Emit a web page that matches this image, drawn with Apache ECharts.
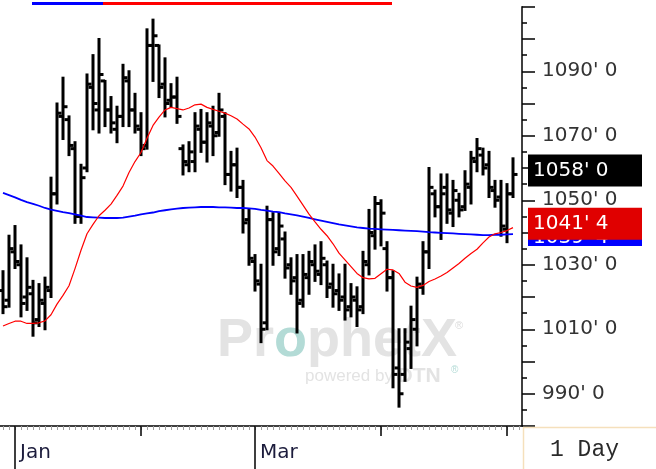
<!DOCTYPE html>
<html>
<head>
<meta charset="utf-8">
<script src="https://cdn.jsdelivr.net/npm/echarts@6/dist/echarts.min.js"></script>
<style>
html,body{margin:0;padding:0;background:#fff;}
#chart{width:656px;height:469px;}
</style>
</head>
<body>
<div id="chart"></div>
<script>
// daily bars, Dec 30 .. May 2
const dates = [
  '2024-12-30','2024-12-31',
  '2025-01-02','2025-01-03','2025-01-06','2025-01-07','2025-01-08','2025-01-09','2025-01-10','2025-01-13','2025-01-14','2025-01-15',
  '2025-01-16','2025-01-17','2025-01-21','2025-01-22','2025-01-23','2025-01-24','2025-01-27','2025-01-28','2025-01-29','2025-01-30','2025-01-31',
  '2025-02-03','2025-02-04','2025-02-05','2025-02-06','2025-02-07','2025-02-10','2025-02-11','2025-02-12','2025-02-13','2025-02-14',
  '2025-02-18','2025-02-19','2025-02-20','2025-02-21','2025-02-24','2025-02-25','2025-02-26','2025-02-27','2025-02-28',
  '2025-03-03','2025-03-04','2025-03-05','2025-03-06','2025-03-07','2025-03-10','2025-03-11','2025-03-12','2025-03-13','2025-03-14',
  '2025-03-17','2025-03-18','2025-03-19','2025-03-20','2025-03-21','2025-03-24','2025-03-25','2025-03-26','2025-03-27','2025-03-28','2025-03-31',
  '2025-04-01','2025-04-02','2025-04-03','2025-04-04','2025-04-07','2025-04-08','2025-04-09','2025-04-10','2025-04-11','2025-04-14',
  '2025-04-15','2025-04-16','2025-04-17','2025-04-21','2025-04-22','2025-04-23','2025-04-24','2025-04-25','2025-04-28','2025-04-29','2025-04-30',
  '2025-05-01','2025-05-02'
];
const opens = [
  1022,1019,1034,1030,1020,1021,1013,1018,1022,1052,
  1076,1075,1066,1045,1060,1085,1078,1087,1078,1072,
  1076,1087,1078,1072,1067,1098,1098,1086,1081,1082,
  1066,1061,1062,1072,1068,1073,1071,1076,1058,1061,
  1054,1044,1031,1024,1012,1044,1035,1038,1030,1026,
  1019,1026,1030,1027,1030,1024,1022,1020,1017,1019,
  1017,1030,1039,1049,1035,1026,998,996,1004,1010,
  1023,1034,1052,1048,1054,1046,1050,1048,1054,1062,
  1064,1061,1053,1051,1041,1052
];
const highs = [
  1028,1039,1042,1036,1032,1025,1024,1026,1057,1080,
  1088,1076,1068,1061,1089,1095,1100,1087,1082,1079,
  1092,1090,1083,1077,1103,1106,1098,1094,1086,1088,
  1067,1068,1077,1078,1077,1079,1083,1077,1065,1066,
  1056,1047,1033,1030,1048,1046,1046,1040,1032,1033,
  1033,1034,1036,1037,1031,1030,1027,1030,1024,1023,
  1034,1047,1051,1050,1037,1028,1010,1010,1017,1026,
  1037,1060,1053,1058,1058,1056,1052,1059,1065,1069,
  1066,1065,1056,1056,1055,1063
];
const lows = [
  1015,1017,1029,1014,1016,1008,1011,1010,1020,1049,
  1069,1064,1043,1043,1059,1072,1071,1073,1071,1068,
  1073,1073,1071,1064,1066,1087,1082,1076,1079,1074,
  1058,1059,1059,1065,1062,1064,1070,1055,1053,1051,
  1040,1030,1022,1006,1010,1030,1033,1026,1021,1009,
  1017,1021,1025,1024,1020,1017,1016,1013,1014,1011,
  1015,1027,1035,1036,1022,992,986,994,998,1005,
  1021,1029,1045,1038,1043,1042,1045,1047,1049,1059,
  1058,1051,1048,1039,1037,1051
];
const closes = [
  1017,1035,1031,1018,1023,1012,1019,1023,1052,1077,
  1079,1067,1045,1057,1086,1080,1089,1078,1074,1076,
  1088,1078,1073,1066,1098,1101,1085,1080,1082,1076,
  1062,1065,1073,1068,1074,1070,1078,1058,1061,1054,
  1043,1032,1025,1010,1044,1034,1042,1029,1025,1018,
  1027,1031,1028,1032,1023,1021,1019,1016,1020,1016,
  1031,1040,1049,1046,1026,996,990,1006,1013,1024,
  1034,1054,1048,1052,1047,1053,1047,1055,1063,1066,
  1060,1054,1050,1042,1052,1058
];
// moving averages
const maRed = [
  1011,1011.8,1012.5,1012.5,1011.8,1011.8,1012,1012.6,1014.5,1017.8,
  1020.5,1023.5,1028.8,1034.5,1039.6,1042.5,1045.2,1046.9,1048.8,1051.5,
  1054.4,1058.6,1062,1064.8,1069.2,1073.2,1075.8,1078,1078.8,1078.4,
  1078,1078.6,1079.6,1079.8,1078.8,1078.2,1077.6,1077,1076.2,1075.2,
  1073.6,1072.1,1069.6,1066.3,1062.3,1060.6,1058.3,1056,1054,1051.3,
  1048.5,1045.7,1043.3,1041,1039,1036.5,1033.6,1031.5,1029.4,1027.3,
  1026,1025.6,1025.8,1027.2,1028.6,1028.4,1027.3,1024.6,1023.4,1023,
  1023.6,1024.8,1025.6,1026.5,1027.6,1029,1030.4,1032,1033.5,1034.8,
  1036.8,1038.6,1039.6,1040,1040.6,1041.5
];
const maBlue = [
  1052.3,1051.6,1050.9,1050.1,1049.4,1048.9,1048.3,1047.6,1047.1,1046.7,
  1046.3,1046,1045.6,1045.2,1044.8,1044.7,1044.6,1044.5,1044.5,1044.5,
  1044.6,1044.9,1045.2,1045.6,1045.9,1046.2,1046.6,1046.9,1047.2,1047.4,
  1047.6,1047.7,1047.8,1047.9,1047.9,1047.9,1047.8,1047.8,1047.7,1047.6,
  1047.6,1047.5,1047.3,1047,1046.8,1046.5,1046.3,1045.9,1045.6,1045.3,
  1044.9,1044.5,1044.1,1043.7,1043.3,1042.9,1042.5,1042.2,1041.9,1041.6,
  1041.4,1041.2,1041.1,1041,1040.9,1040.8,1040.7,1040.6,1040.5,1040.4,
  1040.3,1040.1,1040,1039.9,1039.8,1039.7,1039.6,1039.5,1039.4,1039.3,
  1039.2,1039.2,1039.3,1039.3,1039.4,1039.5
];
const yLabelValues = [990, 1010, 1030, 1050, 1070, 1090];
const shownMonths = {'01': 'Jan', '03': 'Mar'};
// last-value tags: blue MA, red MA, close
const tagValues = [1039.5, 1041.5, 1058];
const tagTexts = ["1039' 4", "1041' 4", "1058' 0"];

const axisDates = dates.concat(['']);
const monthStart = axisDates.map(function (d, i) {
  return i > 0 && d !== '' && d.slice(5, 7) !== axisDates[i - 1].slice(5, 7);
});
const labelled = axisDates.map(function (d, i) {
  return monthStart[i] && shownMonths[d.slice(5, 7)] !== undefined;
});

const ohlc = dates.map(function (d, i) {
  return [i, opens[i], closes[i], lows[i], highs[i]];
});

function renderBar(params, api) {
  const idx = api.value(0);
  const x = api.coord([idx, 0])[0];
  const yo = api.coord([idx, api.value(1)])[1];
  const yc = api.coord([idx, api.value(2)])[1];
  const yl = api.coord([idx, api.value(3)])[1];
  const yh = api.coord([idx, api.value(4)])[1];
  const st = {stroke: '#000', lineWidth: 3};
  return {
    type: 'group',
    children: [
      {type: 'line', shape: {x1: x, y1: yh - 1, x2: x, y2: yl + 1}, style: st},
      {type: 'line', shape: {x1: x - 4.5, y1: yo, x2: x, y2: yo}, style: st},
      {type: 'line', shape: {x1: x, y1: yc, x2: x + 4.5, y2: yc}, style: st}
    ]
  };
}

const labelFont = 'DejaVu Sans';
let chart = echarts.init(document.getElementById('chart'));
let option = {
  animation: false,
  backgroundColor: '#fff',
  grid: {left: -3, right: 134, top: 6.75, bottom: 43},
  xAxis: [{
    type: 'category',
    data: axisDates,
    position: 'bottom',
    offset: 0,
    axisLine: {lineStyle: {color: '#000', width: 1.5}},
    axisTick: {show: true, interval: 0, alignWithLabel: true, length: 4, lineStyle: {color: '#a0a0a0', width: 1}},
    axisLabel: {show: false},
    splitLine: {show: false}
  }, {
    type: 'category',
    data: axisDates,
    position: 'bottom',
    offset: 0,
    axisLine: {show: false},
    axisTick: {show: true, alignWithLabel: true, length: 10, interval: function (i) { return monthStart[i]; }, lineStyle: {color: '#000', width: 1.5}},
    axisLabel: {show: false},
    splitLine: {show: false}
  }, {
    type: 'category',
    data: axisDates,
    position: 'bottom',
    offset: 0,
    axisLine: {show: false},
    axisTick: {show: true, alignWithLabel: true, length: 43, interval: function (i) { return labelled[i]; }, lineStyle: {color: '#000', width: 1.5}},
    axisLabel: {
      interval: function (i) { return labelled[i]; },
      formatter: function (v) { return shownMonths[v.slice(5, 7)] || ''; },
      align: 'left',
      padding: [0, 0, 0, 5],
      margin: 17,
      color: '#1c1c3c',
      fontSize: 20,
      fontFamily: labelFont
    },
    splitLine: {show: false}
  }],
  yAxis: {
    type: 'value',
    position: 'right',
    min: 980,
    max: 1110,
    interval: 10,
    axisLine: {show: true, lineStyle: {color: '#000', width: 1.5}},
    axisTick: {show: true, length: 13, lineStyle: {color: '#000', width: 1.5}},
    minorTick: {show: true, splitNumber: 2, length: 5, lineStyle: {color: '#000', width: 1.5}},
    splitLine: {show: false},
    axisLabel: {
      margin: 20,
      color: '#333',
      fontSize: 20,
      fontFamily: labelFont,
      formatter: function (v) { return yLabelValues.indexOf(v) >= 0 ? v + "' 0" : ''; }
    }
  },
  series: [{
    type: 'custom',
    name: 'price',
    renderItem: renderBar,
    encode: {x: 0, y: [1, 2, 3, 4]},
    data: ohlc,
    z: 3
  }, {
    type: 'line',
    name: 'ma1',
    data: maBlue,
    showSymbol: false,
    lineStyle: {color: '#0000ff', width: 1.8},
    z: 5
  }, {
    type: 'line',
    name: 'ma2',
    data: maRed,
    showSymbol: false,
    lineStyle: {color: '#ff0000', width: 1.2},
    z: 6
  }]
};
chart.setOption(option);

// watermark, study keys, bottom-right box and last-value tags
let tagColors = ['#0000ff', '#e00000', '#000000'];
let graphics = [
  {type: 'text', left: 217, top: 314, z: 0, silent: true,
    style: {text: '{a|Pr}{b|o}{a|phetX}', rich: {
      a: {fontSize: 54, fontWeight: 'bold', fontFamily: 'Liberation Sans', fill: '#e3e3e3'},
      b: {fontSize: 54, fontWeight: 'bold', fontFamily: 'Liberation Sans', fill: '#b3dbd6'}
    }}},
  {type: 'text', left: 455, top: 320, z: 0, silent: true,
    style: {text: '®', fontSize: 11, fontFamily: 'Liberation Sans', fill: '#dcdcdc'}},
  {type: 'text', left: 305, top: 366, z: 0, silent: true,
    style: {text: '{p|powered by }{d|DTN}', rich: {
      p: {fontSize: 17, fontFamily: 'Liberation Sans', fill: '#e3e3e3'},
      d: {fontSize: 21, fontWeight: 'bold', fontFamily: 'Liberation Sans', fill: '#e3e3e3'}
    }}},
  {type: 'text', left: 451, top: 365, z: 0, silent: true,
    style: {text: '®', fontSize: 10, fontFamily: 'Liberation Sans', fill: '#b3dbd6'}},
  {type: 'rect', shape: {x: 32, y: 2, width: 71, height: 3}, style: {fill: '#0000ff'}, z: 10},
  {type: 'rect', shape: {x: 103, y: 2, width: 289, height: 3}, style: {fill: '#ff0000'}, z: 10},
  {type: 'line', shape: {x1: 523, y1: 427.5, x2: 656, y2: 427.5}, style: {stroke: '#f5e0bc', lineWidth: 1.5}, z: 10},
  {type: 'line', shape: {x1: 523.5, y1: 427, x2: 523.5, y2: 469}, style: {stroke: '#f5e0bc', lineWidth: 1.5}, z: 10},
  {type: 'text', x: 550, y: 450, z: 10,
    style: {text: '1 Day', fontSize: 23, fontFamily: 'Liberation Mono', fill: '#2a2a2a', verticalAlign: 'middle'}}
];
tagValues.forEach(function (v, k) {
  let yv = chart.convertToPixel({yAxisIndex: 0}, v);
  graphics.push({type: 'rect', shape: {x: 528, y: yv - 20, width: 114, height: 32}, style: {fill: tagColors[k]}, z: 20 + k * 2});
  graphics.push({type: 'text', x: 533, y: yv - 4 + (k === 0 ? 8 : 0), z: 21 + k * 2,
    style: {text: tagTexts[k], fontSize: 20, fontFamily: labelFont, fill: '#fff', verticalAlign: 'middle'}});
});
chart.setOption({graphic: graphics});
</script>
</body>
</html>
